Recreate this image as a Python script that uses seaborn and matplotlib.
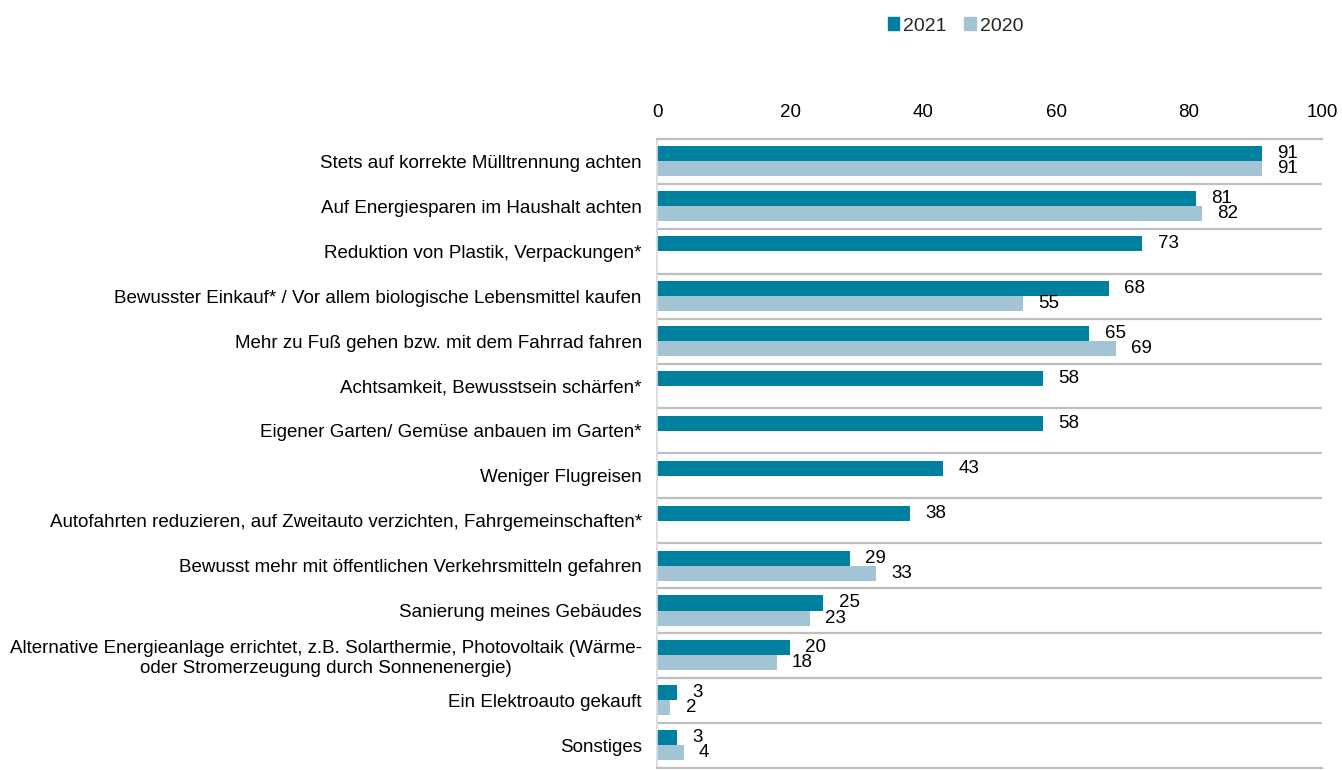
import matplotlib
matplotlib.use("Agg")
import matplotlib.pyplot as plt
import numpy as np
import pandas as pd
import seaborn as sns

kategorien = [
    "Stets auf korrekte Mülltrennung achten",
    "Auf Energiesparen im Haushalt achten",
    "Reduktion von Plastik, Verpackungen*",
    "Bewusster Einkauf* / Vor allem biologische Lebensmittel kaufen",
    "Mehr zu Fuß gehen bzw. mit dem Fahrrad fahren",
    "Achtsamkeit, Bewusstsein schärfen*",
    "Eigener Garten/ Gemüse anbauen im Garten*",
    "Weniger Flugreisen",
    "Autofahrten reduzieren, auf Zweitauto verzichten, Fahrgemeinschaften*",
    "Bewusst mehr mit öffentlichen Verkehrsmitteln gefahren",
    "Sanierung meines Gebäudes",
    "Alternative Energieanlage errichtet, z.B. Solarthermie, Photovoltaik (Wärme-\noder Stromerzeugung durch Sonnenenergie)",
    "Ein Elektroauto gekauft",
    "Sonstiges",
]
werte_2021 = [91, 81, 73, 68, 65, 58, 58, 43, 38, 29, 25, 20, 3, 3]
werte_2020 = [91, 82, np.nan, 55, 69, np.nan, np.nan, np.nan, np.nan, 33, 23, 18, 2, 4]
jahre = ["2021", "2020"]
farben = ["#00809F", "#A3C4D4"]

df = pd.concat([
    pd.DataFrame({"Kategorie": kategorien, "Wert": werte_2021, "Jahr": "2021"}),
    pd.DataFrame({"Kategorie": kategorien, "Wert": werte_2020, "Jahr": "2020"}),
]).dropna()

sns.set_theme(style="white")
plt.rcParams["font.family"] = ["Liberation Sans", "DejaVu Sans"]

fig = plt.figure(figsize=(13.42, 7.70), dpi=100)
ax = fig.add_axes([0.4896, 0.003, 0.4955, 0.8165])

sns.barplot(data=df, y="Kategorie", x="Wert", hue="Jahr", order=kategorien,
            hue_order=jahre, palette=farben, width=0.67, dodge=True,
            errorbar=None, ax=ax, legend=False, saturation=1, linewidth=0)

for c in ax.containers:
    ax.bar_label(c, fmt="%.0f", padding=11, fontsize=13.5, color="#000000")

ax.set_xlim(0, 100)
ax.set_xticks(range(0, 101, 20))
ax.xaxis.tick_top()
ax.tick_params(axis="x", length=0, pad=13, labelsize=13.5, colors="#000000")
ax.tick_params(axis="y", length=0, pad=11, labelsize=13.5, colors="#000000")
ax.set_xlabel("")
ax.set_ylabel("")
for lbl in ax.get_yticklabels():
    lbl.set_multialignment("center")

ax.set_yticks(np.arange(0.5, len(kategorien) - 1, 1), minor=True)
ax.tick_params(axis="y", which="minor", length=0)
ax.grid(which="minor", axis="y", color="#BFBFBF", linewidth=1.6)
ax.grid(which="major", visible=False)
ax.set_ylim(len(kategorien) - 0.5, -0.5)

for s in ["top", "bottom"]:
    ax.spines[s].set_color("#BFBFBF")
    ax.spines[s].set_linewidth(1.6)
ax.spines["left"].set_color("#D9D9D9")
ax.spines["right"].set_visible(False)

handles = [plt.Rectangle((0, 0), 1, 1, color=f) for f in farben]
fig.legend(handles, jahre, loc="upper center", bbox_to_anchor=(0.712, 1.0),
           ncol=2, frameon=False, fontsize=14, handlelength=0.6, handleheight=0.6,
           handletextpad=0.2, columnspacing=0.9)

fig.savefig("out.png", dpi=100)
